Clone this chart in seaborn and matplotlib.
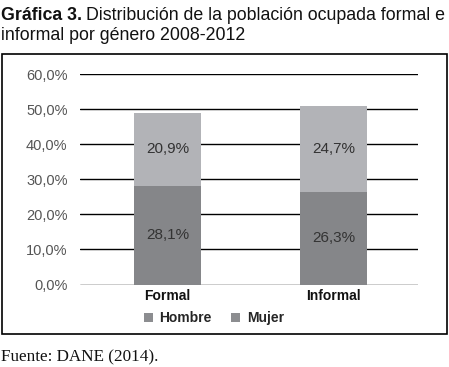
import matplotlib
matplotlib.use("Agg")
import matplotlib.pyplot as plt
import seaborn as sns
import numpy as np
import pandas as pd
from matplotlib.patches import Rectangle, Patch

categories = ["Formal", "Informal"]
hombre = [28.1, 26.3]
mujer = [20.9, 24.7]
hombre_labels = ["28,1%", "26,3%"]
mujer_labels = ["20,9%", "24,7%"]
yticks = [0, 10, 20, 30, 40, 50, 60]
ytick_labels = ["0,0%", "10,0%", "20,0%", "30,0%", "40,0%", "50,0%", "60,0%"]
series_names = ["Hombre", "Mujer"]

sns.set_theme(style="white")
plt.rcParams['font.family'] = ['Liberation Sans', 'DejaVu Sans']

W, H = 449, 367
fig = plt.figure(figsize=(W / 100, H / 100), dpi=100)
ax = fig.add_axes([80 / W, (H - 284.5) / H, 338 / W, 210.5 / H])

c_h = "#858689"
c_m = "#b2b3b7"

df = pd.DataFrame({"cat": categories, "hombre": hombre, "mujer": mujer})
df["total"] = df["hombre"] + df["mujer"]

for y in yticks:
    ax.axhline(y, color="black", lw=1.0, zorder=0)

sns.barplot(data=df, x="cat", y="total", color=c_m, width=0.40, ax=ax,
            saturation=1, zorder=2, linewidth=0, edgecolor="none")
sns.barplot(data=df, x="cat", y="hombre", color=c_h, width=0.40, ax=ax,
            saturation=1, zorder=3, linewidth=0, edgecolor="none")

for i in range(len(categories)):
    ax.text(i, hombre[i] / 2, hombre_labels[i], ha="center", va="center",
            fontsize=11, color="#333333", zorder=5)
    ax.text(i, hombre[i] + mujer[i] / 2, mujer_labels[i], ha="center", va="center",
            fontsize=11, color="#333333", zorder=5)

ax.set_xlim(-0.527, 1.509)
ax.set_ylim(0, 60)
ax.set_yticks(yticks)
ax.set_yticklabels(ytick_labels, fontsize=10.5, color="#555555")
ax.set_xticks(range(len(categories)))
ax.set_xticklabels(categories, fontsize=10, fontweight="bold", color="#111111")
ax.tick_params(axis="y", length=0, pad=9)
ax.tick_params(axis="x", length=0, pad=3)
ax.set_xlabel("")
ax.set_ylabel("")
for s in ax.spines.values():
    s.set_visible(False)

handles = [Patch(facecolor="#8c8d90", edgecolor="none"),
           Patch(facecolor="#8c8d90", edgecolor="none")]
fig.legend(handles, series_names, loc="center", bbox_to_anchor=(214 / W, (H - 318) / H),
           ncol=2, frameon=False, handlelength=0.6, handleheight=0.6,
           handletextpad=0.5, columnspacing=1.4,
           prop={"weight": "bold", "size": 10})

# outer frame
fig.patches.append(Rectangle((2 / W, (H - 334) / H), 445 / W, 280 / H,
                             transform=fig.transFigure, fill=False,
                             edgecolor="black", lw=1.2))

t1 = fig.text(1 / W, 1 - 20 / H, "Gráfica 3.", fontsize=12.8, fontweight="bold",
              ha="left", va="baseline", color="#111111")
fig.canvas.draw()
bb = t1.get_window_extent(fig.canvas.get_renderer())
fig.text((bb.x1 + 4) / W, 1 - 20 / H, "Distribución de la población ocupada formal e",
         fontsize=12.8, ha="left", va="baseline", color="#111111")
fig.text(1 / W, 1 - 40 / H, "informal por género 2008-2012",
         fontsize=12.8, ha="left", va="baseline", color="#111111")
fig.text(1 / W, 1 - 361 / H, "Fuente: DANE (2014).", fontsize=12.3,
         family=["Liberation Serif", "DejaVu Serif"], ha="left", va="baseline",
         color="#111111")

fig.savefig("out.png", dpi=100)
